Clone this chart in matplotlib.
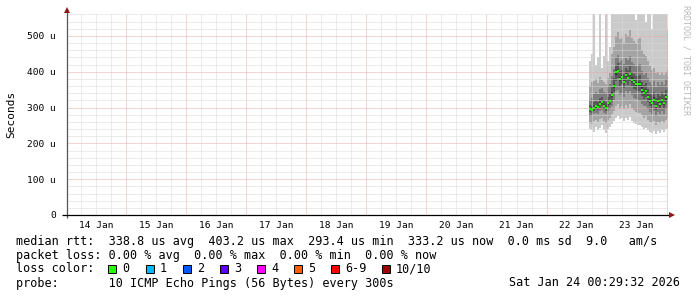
import matplotlib
matplotlib.use("Agg")
import matplotlib.pyplot as plt
from matplotlib.ticker import MultipleLocator, FixedLocator, FuncFormatter
from matplotlib.patches import Rectangle
import numpy as np

# ---------------- data ----------------
day_labels = ["14 Jan", "15 Jan", "16 Jan", "17 Jan", "18 Jan",
              "19 Jan", "20 Jan", "21 Jan", "22 Jan", "23 Jan"]
y_tick_values = [0, 100, 200, 300, 400, 500]          # microseconds
y_tick_labels = ["0", "100 u", "200 u", "300 u", "400 u", "500 u"]

# graph window: Jan 14 00:29:32 -> Jan 24 00:29:32 (days since Jan 14 00:00)
window_start_day = (29 * 60 + 32) / 86400.0
window_days = 10
# consolidated columns start Jan 22 17:00, one every 48 minutes
data_start_day = 8 + 17 / 24.0
data_step_minutes = 48

# sorted ping RTTs per column (microseconds), ping1 = fastest ... ping10 = slowest
ping1 = [240, 236, 232, 245, 238, 242, 250, 236, 228, 240, 246, 255, 262, 270, 275, 268, 272, 262, 270, 265,
         274, 262, 258, 255, 250, 252, 245, 240, 242, 236, 232, 228, 235, 226, 234, 230, 236, 232, 240, 244]
ping2 = [258, 255, 262, 266, 260, 268, 270, 262, 258, 266, 272, 282, 290, 305, 310, 300, 305, 296, 308, 300,
         310, 298, 292, 288, 286, 285, 278, 272, 275, 266, 260, 256, 262, 252, 260, 256, 262, 258, 266, 270]
ping3 = [277, 275, 281, 285, 283, 289, 293, 285, 281, 289, 295, 305, 320, 345, 350, 335, 340, 330, 345, 337,
         347, 335, 327, 323, 321, 319, 310, 303, 305, 295, 287, 281, 290, 277, 287, 282, 289, 283, 295, 299]
ping4 = [287, 285, 291, 295, 293, 299, 303, 295, 291, 301, 307, 319, 343, 375, 381, 361, 365, 355, 371, 363,
         375, 359, 353, 348, 347, 345, 333, 325, 329, 315, 305, 299, 308, 293, 303, 298, 307, 300, 313, 319]
ping5 = [292, 290, 296, 300, 298, 306, 310, 301, 296, 308, 314, 330, 354, 392, 396, 374, 379, 366, 384, 376,
         388, 372, 366, 360, 360, 360, 344, 334, 339, 324, 312, 306, 316, 299, 312, 304, 314, 306, 322, 328]
ping6 = [298, 296, 304, 308, 306, 314, 318, 309, 304, 316, 322, 342, 366, 404, 408, 386, 391, 378, 396, 388,
         400, 384, 378, 372, 372, 372, 356, 346, 351, 336, 324, 318, 328, 311, 324, 316, 326, 318, 334, 340]
ping7 = [306, 304, 314, 318, 316, 326, 330, 321, 316, 330, 338, 358, 381, 418, 424, 401, 406, 394, 411, 404,
         416, 400, 394, 388, 388, 390, 372, 362, 368, 352, 340, 334, 344, 326, 340, 332, 342, 334, 350, 356]
ping8 = [322, 327, 337, 342, 338, 352, 354, 344, 340, 357, 367, 387, 407, 442, 447, 427, 432, 422, 437, 432,
         444, 428, 422, 417, 420, 422, 402, 392, 397, 382, 370, 364, 374, 357, 370, 362, 372, 364, 380, 384]
ping9 = [360, 370, 375, 380, 368, 385, 378, 372, 365, 382, 395, 450, 470, 500, 510, 490, 495, 480, 505, 500,
         515, 495, 485, 480, 490, 495, 460, 450, 445, 430, 415, 405, 410, 395, 400, 390, 398, 392, 400, 405]
ping10 = [430, 450, 600, 420, 440, 600, 410, 445, 600, 430, 470, 600, 600, 600, 600, 600, 600, 600, 600, 600,
          600, 600, 600, 545, 600, 600, 600, 600, 540, 600, 600, 520, 600, 600, 600, 560, 600, 600, 600, 520]
median_rtt = [295, 293, 300, 304, 302, 310, 314, 305, 300, 312, 318, 336, 360, 398, 402, 380, 385, 372, 390, 382,
              394, 378, 372, 366, 366, 366, 350, 340, 345, 330, 318, 312, 322, 305, 318, 310, 320, 312, 328, 334]

loss_labels = ["0", "1", "2", "3", "4", "5", "6-9", "10/10"]
loss_colors = ["#26ff00", "#00b8ff", "#0059ff", "#5e00ff", "#ff00ff", "#ff5e00", "#ff0000", "#a10000"]

legend_median = "median rtt:  338.8 us avg  403.2 us max  293.4 us min  333.2 us now  0.0 ms sd  9.0   am/s"
legend_loss = "packet loss: 0.00 % avg  0.00 % max  0.00 % min  0.00 % now"
legend_probe = "probe:       10 ICMP Echo Pings (56 Bytes) every 300s"
legend_date = "Sat Jan 24 00:29:32 2026"

# ---------------- figure ----------------
W, H = 697, 297
fig = plt.figure(figsize=(W / 100, H / 100), dpi=100, facecolor="white")
ax = fig.add_axes([67 / W, 82 / H, 601 / W, 201 / H])
ax.set_facecolor("white")

MONO = "DejaVu Sans Mono"

pings = [ping1, ping2, ping3, ping4, ping5, ping6, ping7, ping8, ping9, ping10]
n = len(median_rtt)
edges = data_start_day + np.arange(n + 1) * data_step_minutes / 1440.0
half = len(pings) // 2
for i in range(half):
    g = int(190 / half * (half - 1 - i)) + 50
    col = "#%02x%02x%02x" % (g, g, g)
    lo = np.array(pings[i], dtype=float)
    hi = np.array(pings[len(pings) - 1 - i], dtype=float)
    ax.stairs(hi, edges, baseline=lo, fill=True, color=col, linewidth=0, zorder=1 + i * 0.01)

ax.hlines(median_rtt, edges[:-1], edges[1:], colors=loss_colors[0], linewidth=1.6, zorder=3)

ax.set_xlim(window_start_day, window_start_day + window_days)
ax.set_ylim(0, 561)

# x ticks: midnights (major, red grid), 6-hourly (minor, grey grid), labels at noon
ax.xaxis.set_major_locator(FixedLocator(np.arange(1, window_days + 1)))
ax.xaxis.set_major_formatter(FuncFormatter(lambda v, p: ""))
ax.xaxis.set_minor_locator(FixedLocator(np.arange(0.25, window_days + 0.3, 0.25)))


def minor_fmt(v, p):
    frac = v % 1.0
    idx = int(np.floor(v))
    if abs(frac - 0.5) < 1e-6 and 0 <= idx < len(day_labels):
        return day_labels[idx]
    return ""


ax.xaxis.set_minor_formatter(FuncFormatter(minor_fmt))

ax.yaxis.set_major_locator(FixedLocator(y_tick_values))
ax.yaxis.set_major_formatter(FuncFormatter(lambda v, p: y_tick_labels[y_tick_values.index(int(round(v)))]
                                           if int(round(v)) in y_tick_values else ""))
ax.yaxis.set_minor_locator(MultipleLocator(20))

ax.tick_params(which="both", length=0)
ax.tick_params(axis="x", which="minor", pad=4, labelsize=6.8)
ax.tick_params(axis="y", which="major", pad=8, labelsize=6.8)
for lab in ax.get_xticklabels(minor=True) + ax.get_yticklabels():
    lab.set_fontfamily(MONO)

dash = (0, (1, 1))
ax.grid(which="minor", color="#d9d9d9", linestyle=dash, linewidth=0.72)
ax.grid(which="major", color="#eaa8a8", linestyle=dash, linewidth=0.72)
ax.set_axisbelow(False)

for s in ax.spines.values():
    s.set_visible(False)

# axis lines and arrows
ax.plot([0, 0], [-0.015, 1.01], transform=ax.transAxes, color="#555555", lw=0.9,
        clip_on=False, zorder=5, solid_capstyle="butt")
ax.plot([-5 / 601, 1.004], [0, 0], transform=ax.transAxes, color="black", lw=0.9,
        clip_on=False, zorder=5, solid_capstyle="butt")
ax.plot([0], [1.02], transform=ax.transAxes, marker="^", markersize=4.2, color="#8b1a1a",
        clip_on=False, zorder=6, markeredgewidth=0)
ax.plot([1.006], [0], transform=ax.transAxes, marker=">", markersize=4.2, color="#8b1a1a",
        clip_on=False, zorder=6, markeredgewidth=0)

ax.set_ylabel("Seconds", fontfamily=MONO, fontsize=8)
ax.yaxis.set_label_coords(-51 / 601, 0.5)

# watermark
fig.text(686 / W, 1 - 5 / H, "RRDTOOL / TOBI OETIKER", rotation=270, fontfamily=MONO,
         fontsize=6.0, color="#b8b8b8", ha="center", va="top")


def ftext(x, y, s, **kw):
    fig.text(x / W, 1 - y / H, s, fontfamily=MONO, fontsize=8.5, va="center", **kw)


ftext(16, 241, legend_median)
ftext(16, 255, legend_loss)
ftext(16, 269, "loss color:")
sq_x = [108, 146, 183, 220, 257, 294, 331, 382]
for sx, lab, c in zip(sq_x, loss_labels, loss_colors):
    fig.patches.append(Rectangle((sx / W, 1 - 273 / H), 8 / W, 8 / H, transform=fig.transFigure,
                                 facecolor=c, edgecolor="black", linewidth=0.7))
    ftext(sx + 14, 269, lab)
ftext(16, 283, legend_probe)
ftext(680, 283, legend_date, ha="right")

fig.savefig("out.png", dpi=100, facecolor="white")
